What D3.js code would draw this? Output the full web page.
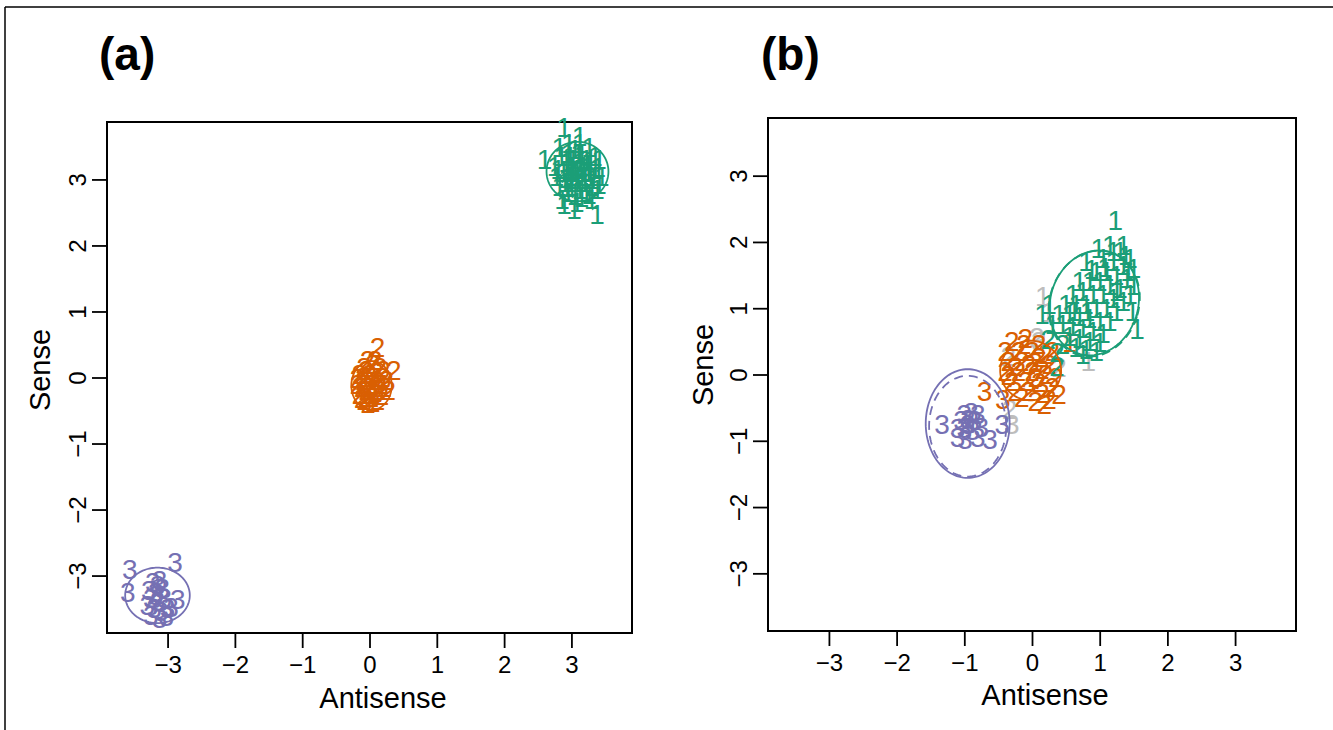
<!DOCTYPE html>
<html><head><meta charset="utf-8">
<script src="https://cdn.jsdelivr.net/npm/d3@7"></script>
<style>body{margin:0;background:#fff}svg{display:block}text{font-family:"Liberation Sans",Arial,sans-serif}</style>
</head><body><svg id="c" width="1333" height="730"></svg>
<script>
// ---------- data ----------
const xTicks = [-3,-2,-1,0,1,2,3];
const yTicks = [-3,-2,-1,0,1,2,3];
const panelTitles = ["(a)","(b)"];
const xLabel = "Antisense";
const yLabel = "Sense";

// panel (a)
const a_green1 = [[2.89,3.79],[3.12,3.65],[2.60,3.30],[2.82,3.48],[3.26,3.48],[3.41,3.30],[2.89,2.62],[3.04,2.55],[3.38,2.47],[2.86,2.70],[3.26,2.77],[3.41,2.92],[3.35,3.15],[3.45,3.05],[2.75,3.20],[2.78,3.05],[2.95,3.40],[3.05,3.45],[3.15,3.38],[3.22,3.30],[2.92,3.25],[3.00,3.20],[3.08,3.15],[3.18,3.10],[3.28,3.05],[2.88,3.10],[2.98,3.05],[3.10,3.00],[3.20,2.95],[3.30,2.90],[2.90,2.95],[3.00,2.90],[3.12,2.85],[3.22,2.80],[2.95,2.80],[3.05,2.75],[3.15,2.72],[3.02,3.30],[3.12,3.25],[3.25,3.20],[2.85,3.35],[2.82,2.90],[3.35,3.35],[3.38,2.85],[3.05,3.10],[3.15,3.05],[2.95,3.15],[3.25,3.12],[3.08,2.95],[3.18,3.20],[2.98,3.35],[3.10,3.40],[3.00,3.00],[3.20,3.00],[2.93,2.88],[3.28,3.28],[3.12,3.55],[2.96,3.55],[3.30,2.70],[3.08,2.65],[2.92,3.02],[3.32,3.00],[3.02,3.12],[3.14,3.18],[2.80,3.15],[3.40,3.18]];
const a_orange2 = [[0.12,0.45],[0.36,0.10],[0.05,0.20],[-0.08,0.15],[0.15,0.15],[-0.15,0.05],[0.20,0.00],[-0.18,-0.10],[0.22,-0.15],[-0.15,-0.25],[0.18,-0.28],[-0.08,-0.35],[0.05,-0.38],[0.12,-0.35],[-0.02,-0.05],[0.05,-0.10],[-0.05,-0.20],[0.08,-0.22],[0.00,0.05],[-0.10,-0.05],[0.10,-0.05],[0.02,-0.25],[-0.05,0.10],[0.10,0.08],[0.15,-0.10],[-0.12,-0.15],[0.00,-0.15],[0.06,0.00],[-0.06,-0.30],[0.25,-0.05],[-0.02,-0.40],[0.14,-0.20],[-0.10,0.00],[0.03,-0.30],[0.20,0.10],[-0.18,-0.02],[0.08,0.25],[-0.03,0.25],[0.28,-0.20],[-0.12,-0.32]];
const a_purple3 = [[-3.56,-2.91],[-2.89,-2.80],[-3.59,-3.26],[-2.85,-3.36],[-3.22,-3.10],[-3.12,-3.08],[-3.18,-3.25],[-3.08,-3.20],[-3.25,-3.35],[-3.15,-3.40],[-3.05,-3.35],[-3.20,-3.50],[-3.10,-3.55],[-3.00,-3.50],[-3.25,-3.60],[-3.12,-3.65],[-3.02,-3.62],[-3.18,-3.30],[-3.28,-3.22],[-2.95,-3.48],[-3.15,-3.15],[-3.30,-3.45]];
// ellipses: [cx, cy, rx, ry, rotationDeg]
const a_ellipses = [
  {c:"green", e:[3.09,3.12,0.46,0.45,0], dash:false},
  {c:"orange", e:[0.03,-0.12,0.30,0.37,0], dash:false},
  {c:"purple", e:[-3.15,-3.30,0.48,0.42,0], dash:false}
];

// panel (b)
const b_green1 = [[1.23,2.32],[0.98,1.90],[1.15,1.95],[1.30,1.85],[1.38,1.80],[1.45,1.75],[0.80,1.70],[1.05,1.75],[1.20,1.70],[1.35,1.65],[1.50,1.60],[0.95,1.55],[1.10,1.55],[1.25,1.50],[1.40,1.45],[1.50,1.35],[0.70,1.40],[0.85,1.40],[1.00,1.40],[1.15,1.35],[1.30,1.30],[1.45,1.20],[0.60,1.20],[0.75,1.25],[0.90,1.20],[1.05,1.20],[1.20,1.15],[1.35,1.10],[0.50,1.05],[0.65,1.05],[0.80,1.05],[0.95,1.00],[1.10,1.00],[1.25,0.95],[0.40,0.90],[0.55,0.90],[0.70,0.88],[0.85,0.85],[1.00,0.80],[1.15,0.80],[0.30,0.75],[0.45,0.75],[0.60,0.72],[0.75,0.70],[0.90,0.65],[1.05,0.62],[0.55,0.58],[0.70,0.55],[0.85,0.50],[1.00,0.48],[0.65,0.40],[0.80,0.38],[0.95,0.35],[1.55,0.68],[0.15,0.90],[0.25,1.05],[1.35,1.95],[1.20,1.85],[1.42,1.55],[0.88,1.58],[1.48,0.95],[0.75,0.30],[0.62,0.95],[1.08,1.62],[0.82,0.95],[1.25,1.25]];
const b_green2 = [[0.37,0.33],[0.37,0.12],[0.24,0.53],[0.45,0.45]];
const b_orange2 = [[-0.30,0.50],[-0.10,0.55],[0.10,0.45],[-0.40,0.35],[-0.20,0.35],[0.00,0.35],[0.20,0.30],[-0.35,0.20],[-0.15,0.20],[0.05,0.18],[0.25,0.15],[-0.40,0.05],[-0.20,0.05],[0.00,0.05],[0.20,0.00],[0.35,-0.05],[-0.30,-0.10],[-0.10,-0.10],[0.10,-0.12],[0.30,-0.20],[-0.25,-0.25],[-0.05,-0.25],[0.15,-0.28],[0.05,-0.40],[0.25,-0.38],[0.40,-0.30],[-0.15,-0.35],[0.10,0.25],[-0.05,0.15],[0.15,0.08],[-0.25,0.12],[0.05,-0.05],[-0.12,0.45],[0.30,0.35],[-0.35,-0.02],[0.18,-0.45]];
const b_orange1 = [[0.56,0.48]];
const b_orange3 = [[-0.70,-0.26],[-0.43,-0.38]];
const b_purple3 = [[-1.33,-0.76],[-0.44,-0.76],[-1.00,-0.60],[-0.90,-0.58],[-0.80,-0.60],[-1.05,-0.70],[-0.95,-0.68],[-0.85,-0.70],[-1.10,-0.82],[-1.00,-0.82],[-0.88,-0.85],[-0.75,-0.80],[-0.62,-0.98],[-0.99,-0.98],[-1.10,-0.95],[-0.80,-0.95],[-0.95,-0.75]];
const b_gray1 = [[0.16,1.18],[0.24,0.94],[0.83,0.20]];
const b_gray2 = [[0.07,0.56],[-0.35,0.27],[-0.33,-0.53],[0.40,0.10]];
const b_gray3 = [[-0.30,-0.76],[0.10,0.50]];
const b_ellipses = [
  {c:"green", e:[0.92,1.08,0.65,0.80,-15], dash:false},
  {c:"green", e:[0.92,1.07,0.66,0.81,-16], dash:true},
  {c:"orange", e:[-0.02,0.06,0.45,0.45,0], dash:false},
  {c:"purple", e:[-0.95,-0.74,0.62,0.82,0], dash:false},
  {c:"purple", e:[-0.95,-0.78,0.57,0.76,0], dash:true}
];

const colors = {green:"#1b9e77", orange:"#d95f02", purple:"#7570b3", gray:"#bdbdbd"};

// ---------- drawing ----------
const svg = d3.select("#c");
svg.append("rect").attr("width",1333).attr("height",730).attr("fill","#fff");
// outer frame
svg.append("line").attr("x1",5).attr("y1",7).attr("x2",1333).attr("y2",7).attr("stroke","#000").attr("stroke-width",1.5);
svg.append("line").attr("x1",5).attr("y1",7).attr("x2",5).attr("y2",730).attr("stroke","#000").attr("stroke-width",1.5);

function panel(cfg){
  const x = d3.scaleLinear().domain([-3.9,3.9]).range([cfg.left,cfg.right]);
  const y = d3.scaleLinear().domain([-3.87,3.87]).range([cfg.bottom,cfg.top]);
  const g = svg.append("g");
  // title
  g.append("text").attr("x",cfg.titleX).attr("y",70).attr("font-size",46).attr("font-weight","bold").text(cfg.title);
  // x axis
  const xa = g.append("g").attr("transform",`translate(0,${cfg.bottom})`)
    .call(d3.axisBottom(x).tickValues(xTicks).tickSize(15).tickPadding(8).tickSizeOuter(0));
  xa.select(".domain").remove();
  xa.selectAll("line").attr("stroke","#000").attr("stroke-width",1.8);
  xa.selectAll("text").attr("font-size",24).attr("fill","#000").attr("font-family","Liberation Sans, Arial, sans-serif");
  // y axis
  const ya = g.append("g").attr("transform",`translate(${cfg.left},0)`)
    .call(d3.axisLeft(y).tickValues(yTicks).tickSize(15).tickSizeOuter(0));
  ya.select(".domain").remove();
  ya.selectAll("line").attr("stroke","#000").attr("stroke-width",1.8);
  ya.selectAll("text").attr("font-size",24).attr("fill","#000").attr("font-family","Liberation Sans, Arial, sans-serif")
    .attr("x",null).attr("dy",null).attr("text-anchor","middle")
    .attr("transform","translate(-21,0) rotate(-90)");
  // box
  g.append("rect").attr("x",cfg.left).attr("y",cfg.top).attr("width",cfg.right-cfg.left).attr("height",cfg.bottom-cfg.top)
    .attr("fill","none").attr("stroke","#000").attr("stroke-width",2);
  // axis titles
  g.append("text").attr("x",cfg.xlabX).attr("y",cfg.xlabY).attr("text-anchor","middle").attr("font-size",29).text(xLabel);
  g.append("text").attr("transform",`translate(${cfg.ylabX},${cfg.ylabY}) rotate(-90)`).attr("text-anchor","middle").attr("font-size",29).text(yLabel);
  // points
  const pts = g.append("g");
  cfg.sets.forEach(s=>{
    pts.selectAll(null).data(s.data).enter().append("text")
      .attr("x",d=>x(d[0])).attr("y",d=>y(d[1]))
      .attr("text-anchor","middle").attr("dominant-baseline","central")
      .attr("font-size",28).attr("fill",colors[s.color]).text(s.label);
  });
  // ellipses
  const line = d3.line().x(d=>x(d[0])).y(d=>y(d[1])).curve(d3.curveLinearClosed);
  cfg.ellipses.forEach(el=>{
    const [cx,cy,rx,ry,rot] = el.e;
    const th = rot*Math.PI/180;
    const ptsE = d3.range(0,361,3).map(t=>{
      const a = t*Math.PI/180;
      const ex = rx*Math.cos(a), ey = ry*Math.sin(a);
      return [cx + ex*Math.cos(th) - ey*Math.sin(th), cy + ex*Math.sin(th) + ey*Math.cos(th)];
    });
    g.append("path").attr("d",line(ptsE)).attr("fill","none").attr("stroke",colors[el.c])
      .attr("stroke-width",1.8).attr("stroke-dasharray",el.dash?"9,6":null);
  });
}

panel({left:107,right:632,top:122,bottom:633,title:panelTitles[0],titleX:99,xlabX:383,xlabY:708,ylabX:50,ylabY:370,
  sets:[{data:a_purple3,color:"purple",label:"3"},{data:a_orange2,color:"orange",label:"2"},{data:a_green1,color:"green",label:"1"}],
  ellipses:a_ellipses});
panel({left:768,right:1296,top:118,bottom:631,title:panelTitles[1],titleX:761,xlabX:1045,xlabY:705,ylabX:713,ylabY:365,
  sets:[{data:b_gray1,color:"gray",label:"1"},{data:b_gray2,color:"gray",label:"2"},{data:b_gray3,color:"gray",label:"3"},
        {data:b_purple3,color:"purple",label:"3"},{data:b_orange3,color:"orange",label:"3"},{data:b_orange2,color:"orange",label:"2"},
        {data:b_orange1,color:"orange",label:"1"},{data:b_green2,color:"green",label:"2"},{data:b_green1,color:"green",label:"1"}],
  ellipses:b_ellipses});
</script></body></html>
